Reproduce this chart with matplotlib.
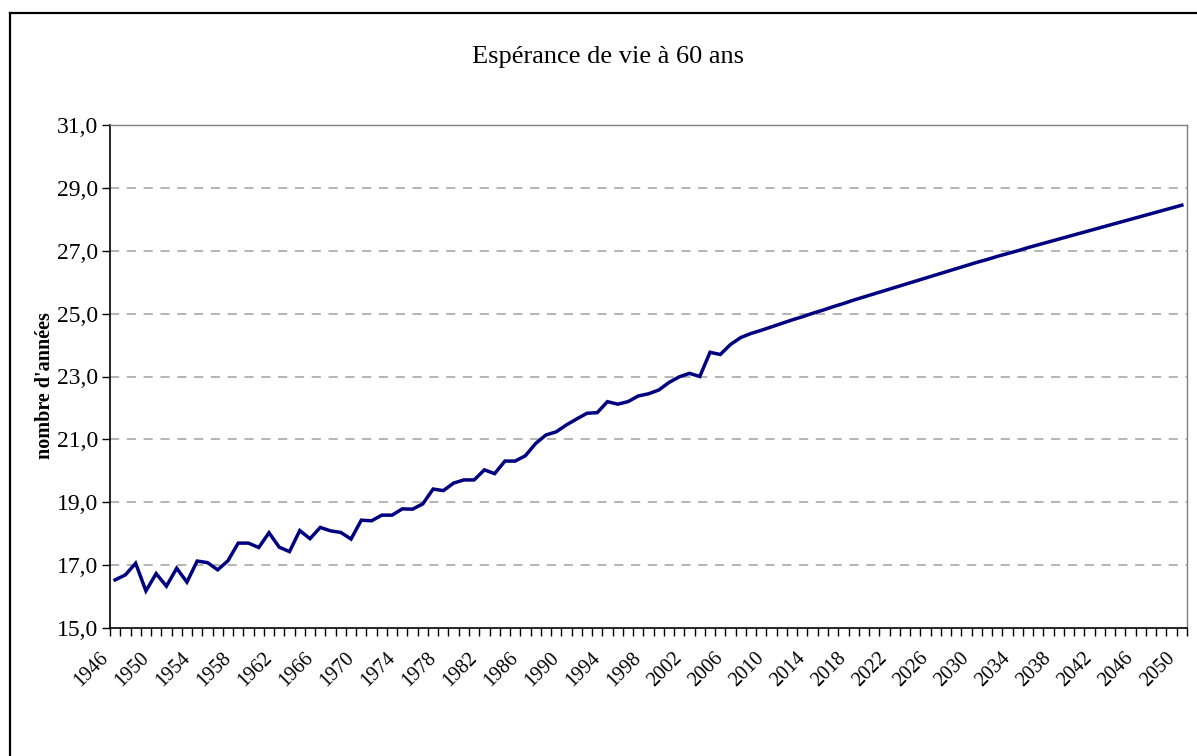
import matplotlib
matplotlib.use("Agg")
import matplotlib.pyplot as plt
from matplotlib.lines import Line2D
from matplotlib.ticker import FixedLocator, FuncFormatter
from matplotlib.transforms import ScaledTranslation

years = list(range(1946, 2051))
observed = [16.53, 16.69, 17.06, 16.18, 16.73, 16.33, 16.90, 16.46, 17.13, 17.08,
            16.85, 17.14, 17.70, 17.70, 17.56, 18.03, 17.57, 17.43, 18.10, 17.84,
            18.20, 18.09, 18.04, 17.83, 18.43, 18.41, 18.59, 18.59, 18.79, 18.78,
            18.95, 19.42, 19.37, 19.61, 19.71, 19.71, 20.03, 19.91, 20.31, 20.31,
            20.48, 20.87, 21.14, 21.24, 21.46, 21.65, 21.83, 21.85, 22.20, 22.12,
            22.20, 22.38, 22.45, 22.57, 22.81, 22.99, 23.10, 23.00, 23.77, 23.70,
            24.02, 24.24, 24.37]
projected = [24.47, 24.58, 24.69, 24.80, 24.90, 25.01, 25.11, 25.22, 25.32, 25.43,
             25.53, 25.63, 25.73, 25.83, 25.93, 26.03, 26.13, 26.23, 26.33, 26.43,
             26.53, 26.63, 26.72, 26.82, 26.91, 27.00, 27.10, 27.19, 27.28, 27.37,
             27.46, 27.55, 27.64, 27.73, 27.82, 27.91, 28.00, 28.09, 28.18, 28.27,
             28.36, 28.45]
values = observed + projected
title = "Espérance de vie à 60 ans"
ylabel = "nombre d'années"
yticks = [15, 17, 19, 21, 23, 25, 27, 29, 31]

W, H = 1197, 756
fig = plt.figure(figsize=(W / 100, H / 100), dpi=100)
plt.rcParams['font.family'] = ['Liberation Serif', 'DejaVu Serif']

ax = fig.add_axes([110 / W, 1 - 628 / H, (1187 - 110) / W, (628 - 125) / H])
x = list(range(len(years)))
ax.plot(x, values, color='#000080', lw=2.5, solid_joinstyle='miter')

ax.set_xlim(-0.5, len(years) - 0.5)
ax.set_ylim(15, 31)
ax.set_yticks(yticks)
ax.yaxis.set_major_formatter(FuncFormatter(lambda v, p: f"{v:.1f}".replace('.', ',')))
ax.tick_params(axis='y', length=6, width=1, color='#000000', labelsize=17, pad=2.5)

label_pos = [i for i, y in enumerate(years) if (y - 1946) % 4 == 0]
ax.xaxis.set_major_locator(FixedLocator(label_pos))
ax.set_xticklabels([str(years[i]) for i in label_pos], rotation=45, ha='right',
                   va='center', rotation_mode='anchor')
ax.xaxis.set_minor_locator(FixedLocator([i - 0.5 for i in range(len(years) + 1)]))
ax.tick_params(axis='x', which='major', length=0, labelsize=14.5, pad=14)
ax.tick_params(axis='x', which='minor', length=6, width=1, color='#000000')
shift = ScaledTranslation(-10 / 100, -8 / 100, fig.dpi_scale_trans)
for lbl in ax.get_xticklabels():
    lbl.set_transform(lbl.get_transform() + shift)

for v in yticks[1:-1]:
    ax.axhline(v, color='#a0a0a0', lw=1.1, ls=(0, (6, 5)), zorder=0)

ax.spines['left'].set_color('#000000')
ax.spines['bottom'].set_color('#000000')
ax.spines['left'].set_linewidth(1.2)
ax.spines['bottom'].set_linewidth(1.2)
ax.spines['top'].set_color('#808080')
ax.spines['right'].set_color('#808080')
ax.spines['top'].set_linewidth(1.0)
ax.spines['right'].set_linewidth(1.0)

fig.text(608 / W, 1 - 57 / H, title, ha='center', va='center', fontsize=19)
fig.text(45 / W, 1 - 386 / H, ylabel, ha='center', va='center', rotation=90,
         fontsize=14.5, fontweight='bold')

# outer chart frame (left and top edges visible)
fr_x, fr_y = 9.5 / W, 1 - 12.5 / H
fig.add_artist(Line2D([fr_x, fr_x], [0, fr_y], transform=fig.transFigure, color='black', lw=1.6))
fig.add_artist(Line2D([fr_x, 1], [fr_y, fr_y], transform=fig.transFigure, color='black', lw=1.6))

fig.savefig("out.png", dpi=100)
